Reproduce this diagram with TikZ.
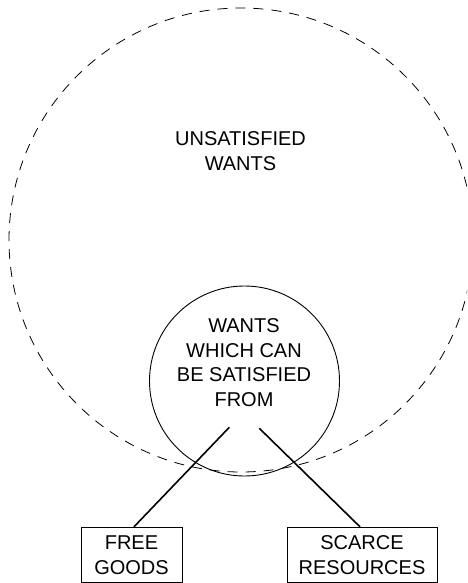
\documentclass[tikz,border=0pt]{standalone}
\usepackage{fontspec}
\setmainfont{Liberation Sans}
\begin{document}
\begin{tikzpicture}[x=1pt,y=-1pt,
  lbl/.style={font=\fontsize{20}{24.5}\selectfont, align=center, inner sep=0pt},
  bigring/.style={circle, draw, line width=0.8pt, dash pattern=on 10pt off 8pt, minimum size=464pt, inner sep=0pt},
  smallring/.style={circle, draw, line width=0.9pt, minimum size=190pt, inner sep=0pt},
  catbox/.style={rectangle, draw, line width=0.9pt, inner sep=0pt, minimum height=55.5pt, align=center, font=\fontsize{20}{24.5}\selectfont},
  link/.style={line width=1.6pt}]
\clip (0,0) rectangle (467,583);
\useasboundingbox (0,0) rectangle (467,583);
\node[bigring] (outer) at (241,240) {};
\node[smallring] (inner) at (244.5,381) {};
\node[lbl] (unsat) at (240.5,151) {UNSATISFIED\\WANTS};
\node[lbl] (wtext) at (244,362.5) {WANTS\\WHICH CAN\\BE SATISFIED\\FROM};
\node[catbox, minimum width=101pt] (free) at (131.5,555) {FREE\\GOODS};
\node[catbox, minimum width=150pt] (scarce) at (362,555) {SCARCE\\RESOURCES};
\coordinate (s1) at (229.3,427.3);
\coordinate (s2) at (259.3,428.3);
\draw[link] (s1) -- ([xshift=2.5pt]free.north);
\draw[link] (s2) -- ([xshift=-2pt]scarce.north);
\end{tikzpicture}
\end{document}
